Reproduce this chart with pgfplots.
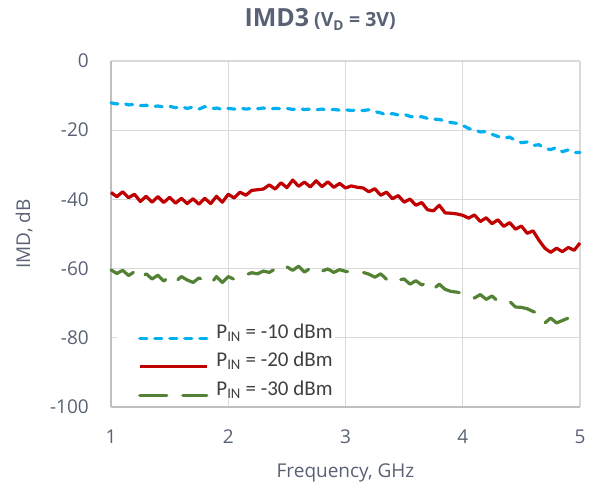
\documentclass[border=0pt]{standalone}
\usepackage{fontspec}
\setmainfont{Open Sans}
\newfontfamily\legfont{Carlito}
\usepackage{pgfplots}
\pgfplotsset{compat=1.18}
\definecolor{txt}{RGB}{89,98,117}
\definecolor{cblue}{RGB}{0,176,240}
\definecolor{cred}{RGB}{192,0,0}
\definecolor{cgreen}{RGB}{84,130,53}
\begin{document}
\begin{tikzpicture}
\begin{axis}[
  scale only axis, width=469pt, height=346pt,
  xmin=1, xmax=5, ymin=-100, ymax=0,
  xtick={1,2,3,4,5}, xticklabels={1,2,3,4,5},
  ytick={-100,-80,-60,-40,-20,0}, yticklabels={-100,-80,-60,-40,-20,0},
  grid=major, major grid style={color=black!15, line width=1.3pt},
  axis x line*=bottom, axis y line*=left,
  axis line style={color=black!25, line width=2pt, -},
  major tick length=0pt,
  tick label style={font=\fontsize{19}{22}\selectfont, text=txt},
  xticklabel style={anchor=base, inner sep=0pt, yshift=-36pt},
  yticklabel style={anchor=east, inner sep=0pt, xshift=-22pt},
  xlabel={Frequency, GHz}, ylabel={IMD, dB},
  label style={font=\fontsize{19}{22}\selectfont, text=txt},
  xlabel style={at={(axis description cs:0.5,-0.205)}, anchor=base},
  ylabel style={at={(axis description cs:-0.185,0.5)}, anchor=center},
  title={{\fontsize{25}{28}\selectfont\bfseries IMD3}\hspace{5pt}{\fontsize{19.5}{22}\selectfont\bfseries (V\textsubscript{D} = 3V)}},
  title style={at={(axis description cs:0.446,1.081)}, anchor=base, text=txt},
  clip=false,
  legend cell align=left,
  legend style={at={(axis description cs:0.0128,0.2457)}, anchor=north west,
    draw=none, fill=white, inner sep=2pt, font=\legfont\fontsize{21}{24}\selectfont, text=black!75,
    nodes={inner sep=0pt, text height=14pt, text depth=2pt}, row sep=12.5pt,
    /tikz/every odd column/.append style={column sep=8pt}},
  legend image code/.code={\path (-19pt,0pt); \draw[#1] (0pt,-6pt) -- (67pt,-6pt);},
]
\addplot[cblue, line width=3.2pt, line cap=round, dash pattern=on 7pt off 8pt] coordinates {
(1.00,-12.1)(1.05,-12.4)(1.10,-12.2)(1.15,-12.7)(1.20,-12.5)(1.25,-12.9)(1.30,-12.8)(1.35,-13.2)(1.40,-13.0)(1.45,-13.3)
(1.50,-13.1)(1.55,-13.5)(1.60,-13.2)(1.65,-13.7)(1.70,-13.3)(1.75,-13.9)(1.80,-13.2)(1.85,-13.8)(1.90,-13.6)(1.95,-14.0)
(2.00,-13.7)(2.05,-13.9)(2.10,-13.6)(2.15,-13.9)(2.20,-13.7)(2.25,-13.8)(2.30,-13.6)(2.35,-13.9)(2.40,-13.7)(2.45,-13.8)
(2.50,-13.7)(2.55,-14.0)(2.60,-13.8)(2.65,-14.0)(2.70,-13.9)(2.75,-14.1)(2.80,-13.9)(2.85,-14.2)(2.90,-14.0)(2.95,-14.2)
(3.00,-14.1)(3.05,-14.3)(3.10,-14.2)(3.15,-14.3)(3.20,-14.1)(3.25,-14.6)(3.30,-15.0)(3.35,-15.6)(3.40,-15.2)(3.45,-15.6)
(3.50,-15.4)(3.55,-16.0)(3.60,-16.3)(3.65,-16.1)(3.70,-16.6)(3.75,-16.8)(3.80,-16.9)(3.85,-17.3)(3.90,-17.8)(3.95,-18.0)
(4.00,-18.6)(4.05,-19.5)(4.10,-19.9)(4.15,-20.5)(4.20,-20.4)(4.25,-21.2)(4.30,-21.8)(4.35,-22.3)(4.40,-22.0)(4.45,-23.0)
(4.50,-23.6)(4.55,-23.4)(4.60,-24.4)(4.65,-24.2)(4.70,-25.3)(4.75,-25.6)(4.80,-25.0)(4.85,-26.2)(4.90,-25.7)(4.95,-26.5)
(5.00,-26.4)};
\addlegendentry{P\textsubscript{IN} = -10 dBm}
\addplot[cred, line width=3.2pt, line join=round] coordinates {
(1.00,-38.0)(1.05,-39.2)(1.10,-37.8)(1.15,-39.5)(1.20,-38.5)(1.25,-40.6)(1.30,-39.1)(1.35,-40.8)(1.40,-39.2)(1.45,-40.9)
(1.50,-39.4)(1.55,-41.1)(1.60,-39.7)(1.65,-41.2)(1.70,-39.8)(1.75,-41.4)(1.80,-39.7)(1.85,-41.2)(1.90,-39.1)(1.95,-40.8)
(2.00,-38.5)(2.05,-39.6)(2.10,-37.9)(2.15,-38.8)(2.20,-37.4)(2.25,-37.2)(2.30,-37.0)(2.35,-35.8)(2.40,-37.0)(2.45,-35.2)
(2.50,-36.6)(2.55,-34.4)(2.60,-36.2)(2.65,-35.0)(2.70,-36.4)(2.75,-34.6)(2.80,-36.3)(2.85,-34.9)(2.90,-36.5)(2.95,-35.4)
(3.00,-36.7)(3.05,-36.1)(3.10,-36.5)(3.15,-36.7)(3.20,-37.8)(3.25,-36.9)(3.30,-38.8)(3.35,-37.9)(3.40,-39.8)(3.45,-38.9)
(3.50,-40.8)(3.55,-39.9)(3.60,-41.7)(3.65,-40.9)(3.70,-43.0)(3.75,-43.3)(3.80,-41.7)(3.85,-43.9)(3.90,-44.0)(3.95,-44.2)
(4.00,-44.6)(4.05,-45.4)(4.10,-44.5)(4.15,-46.4)(4.20,-45.3)(4.25,-47.0)(4.30,-45.9)(4.35,-47.8)(4.40,-46.7)(4.45,-48.6)
(4.50,-47.7)(4.55,-49.8)(4.60,-49.1)(4.65,-51.8)(4.70,-54.1)(4.75,-55.3)(4.80,-54.1)(4.85,-55.1)(4.90,-53.9)(4.95,-54.7)
(5.00,-52.6)};
\addlegendentry{P\textsubscript{IN} = -20 dBm}
\addplot[cgreen, line width=3.2pt, line cap=round, line join=round, dash pattern=on 27pt off 16pt] coordinates {
(1.00,-60.4)(1.05,-61.4)(1.10,-60.5)(1.15,-62.0)(1.20,-60.9)(1.25,-62.8)(1.30,-61.5)(1.35,-63.0)(1.40,-61.9)(1.45,-63.6)
(1.50,-62.3)(1.55,-63.8)(1.60,-62.3)(1.65,-63.3)(1.70,-64.0)(1.75,-62.7)(1.80,-63.7)(1.85,-64.4)(1.90,-62.3)(1.95,-64.0)
(2.00,-62.3)(2.05,-63.1)(2.10,-62.1)(2.15,-61.8)(2.20,-61.2)(2.25,-61.5)(2.30,-60.7)(2.35,-61.1)(2.40,-60.1)(2.45,-60.8)
(2.50,-59.5)(2.55,-60.5)(2.60,-59.3)(2.65,-61.0)(2.70,-59.9)(2.75,-59.5)(2.80,-60.7)(2.85,-60.1)(2.90,-61.1)(2.95,-60.3)
(3.00,-60.8)(3.05,-61.0)(3.10,-61.2)(3.15,-61.1)(3.20,-61.6)(3.25,-62.5)(3.30,-61.5)(3.35,-63.1)(3.40,-62.3)(3.45,-63.3)
(3.50,-63.0)(3.55,-64.5)(3.60,-63.5)(3.65,-64.7)(3.70,-64.1)(3.75,-65.9)(3.80,-64.5)(3.85,-66.0)(3.90,-66.6)(3.95,-66.8)
(4.00,-67.2)(4.05,-67.4)(4.10,-68.5)(4.15,-67.5)(4.20,-68.9)(4.25,-67.9)(4.30,-69.5)(4.35,-70.0)(4.40,-69.5)(4.45,-71.1)
(4.50,-71.2)(4.55,-71.6)(4.60,-72.4)(4.65,-73.0)(4.70,-75.7)(4.75,-74.3)(4.80,-75.7)(4.85,-75.0)(4.90,-74.3)(4.95,-75.5)
(5.00,-74.6)};
\addlegendentry{P\textsubscript{IN} = -30 dBm}
\end{axis}
\pgfresetboundingbox
\path[use as bounding box] ([shift={(-111pt,-86pt)}]current axis.south west) rectangle ([shift={(18pt,61pt)}]current axis.north east);
\end{tikzpicture}
\end{document}
